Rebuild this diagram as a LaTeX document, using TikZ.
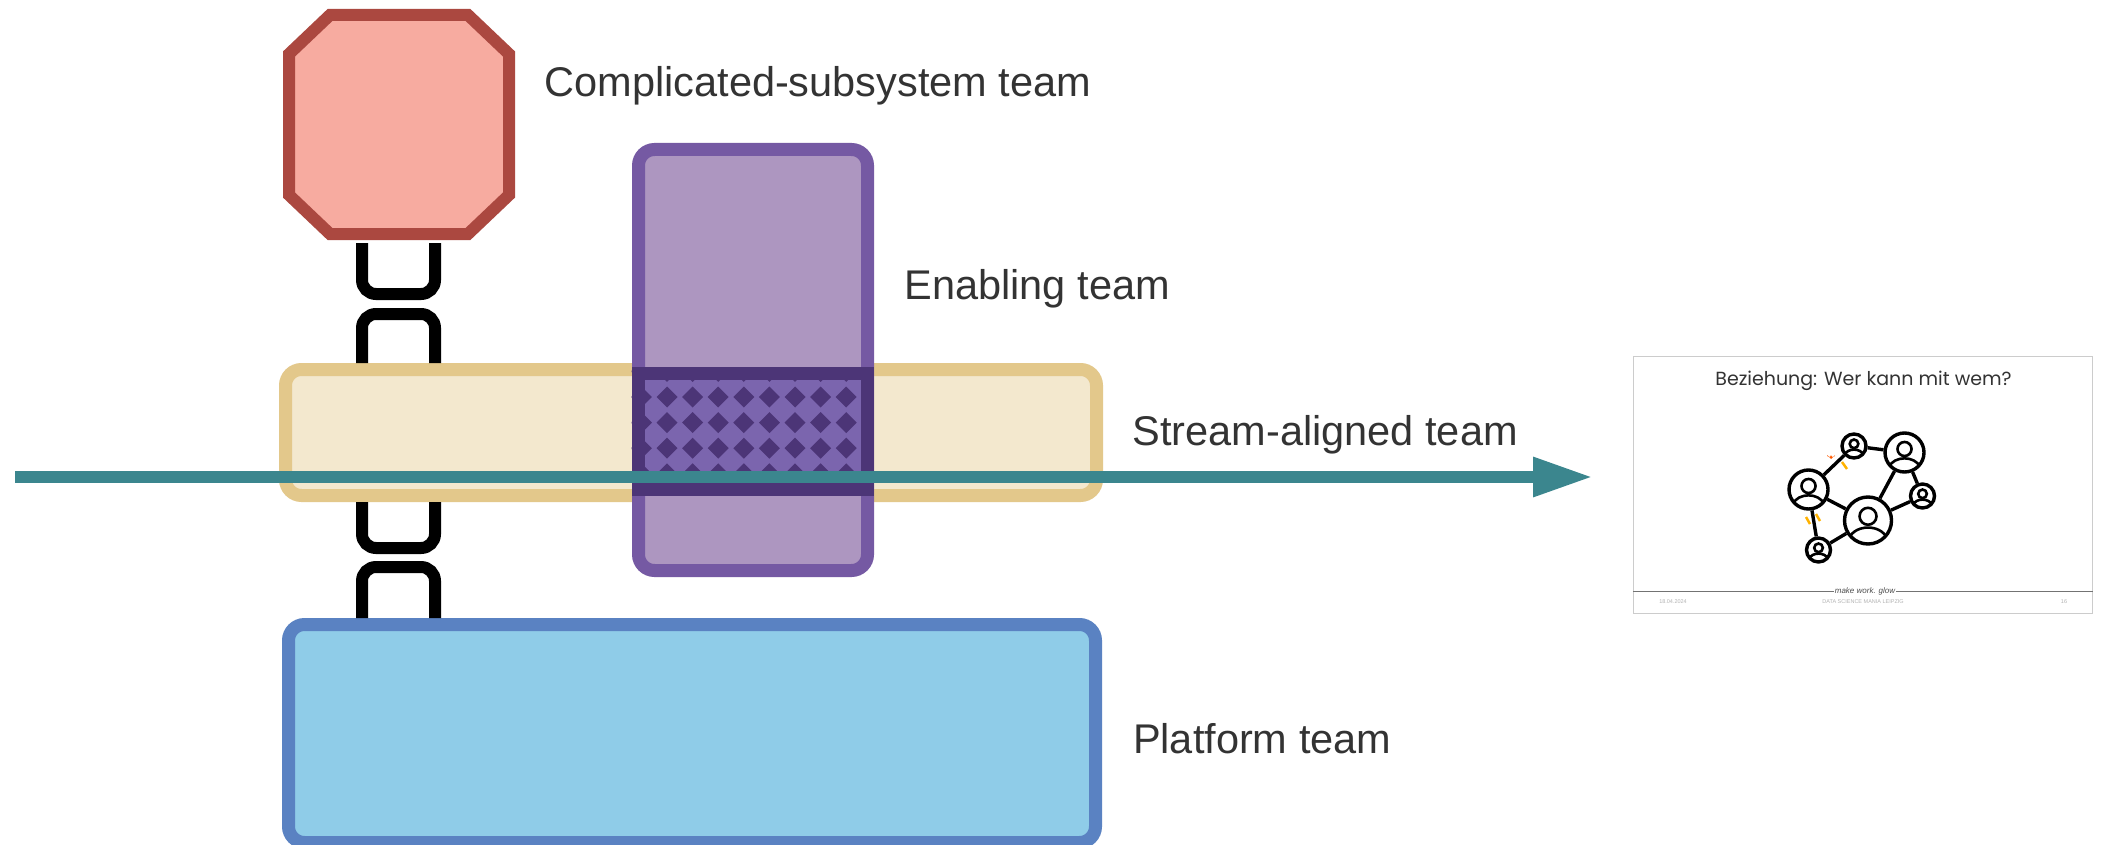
\documentclass[tikz,border=0pt]{standalone}
\usepackage{fontspec}
\setmainfont{Liberation Sans}
\newfontfamily\slidefont{Poppins}
\usetikzlibrary{arrows.meta,positioning,calc}
\definecolor{redfill}{HTML}{F7ABA0}
\definecolor{redline}{HTML}{AB4840}
\definecolor{sandfill}{HTML}{F3E8CE}
\definecolor{sandline}{HTML}{E3C88B}
\definecolor{violetfill}{HTML}{AD96C0}
\definecolor{violetline}{HTML}{7559A3}
\definecolor{violetdark}{HTML}{4C3577}
\definecolor{violetmid}{HTML}{7B65AE}
\definecolor{bluefill}{HTML}{8FCCE8}
\definecolor{blueline}{HTML}{5A82C2}
\definecolor{tealline}{HTML}{3B868E}
\definecolor{labeltext}{HTML}{333333}

\begin{document}
\begin{tikzpicture}[
    x=1pt, y=-1pt,
    team/.style={rectangle, rounded corners=16pt, line width=13pt, inner sep=0pt},
    link/.style={draw=black, line width=12pt, rounded corners=14pt},
    label/.style={anchor=west, text=labeltext, font=\fontsize{41.5}{49}\selectfont},
    member/.style={circle, draw=black, line width=3.4pt, fill=white, inner sep=0pt},
    tie/.style={draw=black, line width=3.4pt},
    spark/.style={draw=orange!60!yellow, line width=2.5pt},
    footer/.style={text=black!30, font=\fontsize{5.5}{6}\selectfont}
  ]
    \useasboundingbox (0,0) rectangle (2106,845);

    \coordinate (linkleft) at (362,0);
    \coordinate (linkright) at (435,0);

    \node[rectangle, inner sep=0pt, outer sep=0pt, minimum width=220pt, minimum height=219pt] (complicated) at (399,124.5) {};
    \draw[draw=redline, fill=redfill, line width=12pt] (complicated.north west) ++(41,0) -- ++(138,0) -- ++(41,39) -- ++(0,141) -- ++(-41,39) -- ++(-138,0) -- ++(-41,-39) -- ++(0,-141) -- cycle;
    \node[team, draw=sandline, fill=sandfill, minimum width=811pt, minimum height=126pt] (stream) at (691,432.5) {};
    \node[team, draw=blueline, fill=bluefill, minimum width=807pt, minimum height=218pt] (platform) at (692,733.5) {};
    \node[team, draw=violetline, fill=violetfill, minimum width=229pt, minimum height=421pt] (enabling) at (753,360) {};
    \node[rectangle, draw=violetdark, fill=violetmid, line width=13pt, inner sep=0pt, minimum width=229pt, minimum height=116pt] (overlap) at (752.5,431.5) {};
    \begin{scope}
      \clip (overlap.north west) rectangle (overlap.south east);
      \foreach \i in {-1,...,8}
        \foreach \j in {-1,...,3}
          \fill[violetdark, shift={(\i*25.6+667,\j*25.6+397)}] (-10.5,0) -- (0,-10.5) -- (10.5,0) -- (0,10.5) -- cycle;
    \end{scope}

    % chain links
    \draw[link] (linkleft |- complicated.south) ++(0,9) -- ++(0,51) -- ++(73,0) -- ++(0,-51);
    \draw[link] (linkleft |- stream.north) -- ++(0,-49) -- ++(73,0) -- ++(0,49);
    \draw[link] (linkleft |- stream.south) -- ++(0,46) -- ++(73,0) -- ++(0,-46);
    \draw[link] (linkleft |- platform.north) -- ++(0,-51) -- ++(73,0) -- ++(0,51);

    \node[label] (complicatedlabel) at (541,86) {Complicated-subsystem team};
    \node[label] (enablinglabel) at (901,289) {Enabling team};
    \node[label, right=26pt of stream, anchor=west, yshift=-2pt] (streamlabel) {Stream-aligned team};
    \node[label] (platformlabel) at (1129.5,739) {Platform team};

    % slide
    \node[rectangle, draw=black!20, line width=1.2pt, minimum width=459pt, minimum height=257pt, inner sep=0pt] (slide) at (1863,485) {};
    \node[font=\slidefont\fontsize{19}{23}\selectfont, text=black!80] (slidetitle) at (1863.5,381) {Beziehung: Wer kann mit wem?};
    \node[font=\itshape\fontsize{8}{9}\selectfont, text=black!70, inner sep=1pt] (motto) at (1865,591) {make work. glow};
    \draw[black!55, line width=0.9pt] (slide.west |- motto) -- (motto.west);
    \draw[black!55, line width=0.9pt] (motto.east) -- (slide.east |- motto);
    \node[footer] (slidedate) at (1673,602) {18.04.2024};
    \node[footer] (slidefooter) at (1863,602) {DATA SCIENCE MANIA LEIPZIG};
    \node[footer] (slidepage) at (2064,602) {16};

    \node[member, minimum size=39pt] (memberA) at (1808.5,489.5) {};
    \node[member, minimum size=24pt] (memberB) at (1854,446) {};
    \node[member, minimum size=39pt] (memberC) at (1904.5,452.5) {};
    \node[member, minimum size=24pt] (memberD) at (1922.5,496) {};
    \node[member, minimum size=47pt] (memberE) at (1868,520.5) {};
    \node[member, minimum size=24pt] (memberF) at (1818.5,550) {};
    \draw[tie] (memberA) -- (memberB);
    \draw[tie] (memberB) -- (memberC);
    \draw[tie] (memberC) -- (memberE);
    \draw[tie] (memberC) -- (memberD);
    \draw[tie] (memberD) -- (memberE);
    \draw[tie] (memberA) -- (memberE);
    \draw[tie] (memberA) -- (memberF);
    \draw[tie] (memberF) -- (memberE);
    \foreach \who/\r in {memberA/19.5, memberB/12, memberC/19.5, memberD/12, memberE/23.5, memberF/12} {
      \begin{scope}[shift={(\who.center)}, x=\r pt, y=-\r pt]
        \clip (0,0) circle (1);
        \draw[black, line width=2.6pt] (0,-0.18) circle (0.36);
        \draw[black, line width=2.6pt] (-0.8,0.75) .. controls (-0.55,0.15) and (0.55,0.15) .. (0.8,0.75);
      \end{scope}
    }
    \fill[orange!70!red] (1831,459) -- (1827,455) arc (180:0:2) arc (180:0:2) -- cycle;
    \draw[spark] (1842,462) -- (1847,469);
    \draw[spark] (1806,517) -- (1810,524);
    \draw[spark] (1816,514) -- (1820,521);

    % flow
    \coordinate (flowstart) at (15,477);
    \coordinate (flowend) at (1593,477);
    \draw[-{Triangle[length=60pt,width=37pt]}, tealline, line width=12pt] (flowstart) -- (flowend);
  \end{tikzpicture}
\end{document}
